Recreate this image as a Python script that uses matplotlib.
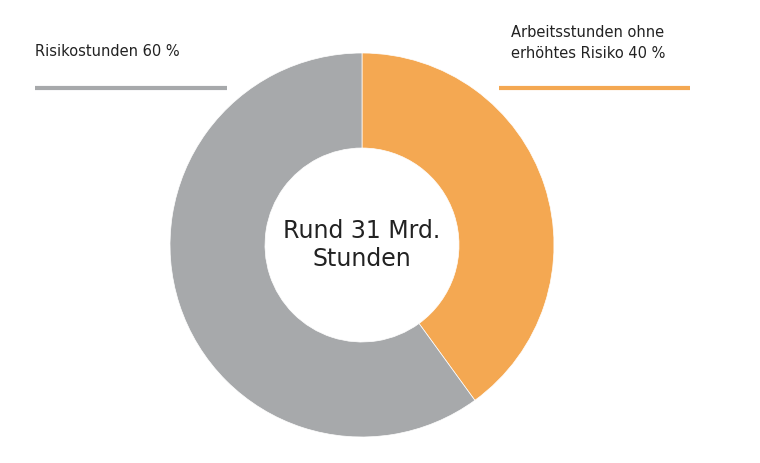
import matplotlib.pyplot as plt

labels = ["Arbeitsstunden ohne\nerhöhtes Risiko 40 %", "Risikostunden 60 %"]
shares = [40, 60]
colors = ["#f4a852", "#a7a9ab"]
center_text = "Rund 31 Mrd.\nStunden"

W, H = 760, 463
fig = plt.figure(figsize=(W / 100, H / 100), dpi=100)
ax = fig.add_axes([0, 0, 1, 1])
ax.set_xlim(0, W)
ax.set_ylim(0, H)
ax.set_aspect("equal")
ax.axis("off")

ax.pie(shares, colors=colors, startangle=90, counterclock=False,
       center=(362, H - 245), radius=192,
       wedgeprops=dict(width=95, edgecolor="white", linewidth=0.5))
ax.set_xlim(0, W)
ax.set_ylim(0, H)

ax.text(362, H - 245, center_text, ha="center", va="center",
        fontsize=17, color="#222222", linespacing=1.25)

# legend-style labels with underline
ax.text(35, H - 52, labels[1], ha="left", va="center", fontsize=10.5, color="#222222")
ax.plot([35, 227], [H - 88, H - 88], color=colors[1], lw=3, solid_capstyle="butt")
ax.text(511, H - 43, labels[0], ha="left", va="center", fontsize=10.5,
        color="#222222", linespacing=1.5)
ax.plot([499, 690], [H - 88, H - 88], color=colors[0], lw=3, solid_capstyle="butt")

fig.savefig("out.png", dpi=100)
